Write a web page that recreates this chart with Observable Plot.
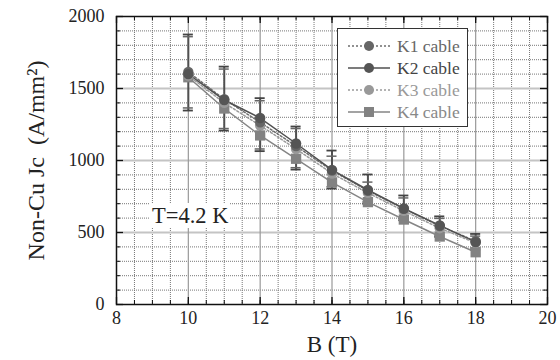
<!DOCTYPE html>
<html><head><meta charset="utf-8">
<script src="https://cdn.jsdelivr.net/npm/d3@7"></script>
<script src="https://cdn.jsdelivr.net/npm/@observablehq/plot@0.6"></script>
<style>
body{margin:0;background:#fff;}
#wrap{position:relative;width:560px;height:360px;font-family:"Liberation Serif","Times New Roman",Times,"DejaVu Serif",serif;}
#wrap svg text{font-family:"Liberation Serif","Times New Roman",Times,"DejaVu Serif",serif;}
#legend{position:absolute;left:337px;top:28px;width:131px;height:99px;border:1.5px solid #333;background:#fff;box-sizing:border-box;}
#note{position:absolute;left:150px;top:203px;background:#fff;font-size:22.5px;line-height:25px;padding:0 2px;color:#222;}
</style></head>
<body><div id="wrap"></div>
<script>
// data
const B = [10, 11, 12, 13, 14, 15, 16, 17, 18];
const K1 = [1615, 1425, 1265, 1100, 930, 790, 665, 545, 440];
const K2 = [1600, 1420, 1295, 1118, 935, 795, 667, 549, 433];
const K3 = [1590, 1400, 1243, 1080, 910, 775, 650, 530, 428];
const K4 = [1578, 1361, 1174, 1012, 848, 711, 590, 472, 363];
const errHi1 = [1875, 1652, 1433, 1236, 1069, 903, 757, 612, 490];
const errLo1 = [1347, 1208, 1065, 937, 805, 700, 585, 470, 380];
const errHi2 = [1860, 1635, 1415, 1222, 1030, 850, 740, 598, 475];
const errLo2 = [1365, 1222, 1080, 950, 818, 712, 598, 482, 392];
const xTicks = [8, 10, 12, 14, 16, 18, 20];
const yTicks = [0, 500, 1000, 1500, 2000];
const names = ["K1 cable", "K2 cable", "K3 cable", "K4 cable"];
const values = [K1, K2, K3, K4];
const strokes = ["#6e6e6e", "#505050", "#9a9a9a", "#858585"];
const fills = ["#666666", "#555555", "#999999", "#828282"];
const textColors = ["#666", "#444", "#999", "#888"];
const dashes = ["2,2", null, "2,2", null];
const symbols = ["circle", "circle", "circle", "square"];

const rows = [];
names.forEach((n, i) => B.forEach((b, j) => rows.push({series: n, i, B: b, v: values[i][j]})));
const errs = B.map((b, j) => ({B: b, hi1: errHi1[j], lo1: errLo1[j], hi2: errHi2[j], lo2: errLo2[j]}));

const W = 560, H = 360, mL = 116, mR = 13, mT = 16, mB = 56;
const pw = W - mL - mR, ph = H - mT - mB;
const xMinor = d3.range(8, 20.001, 0.5);
const yMinor = d3.range(0, 2000.001, 100);
const xMajorInner = xTicks.slice(1, -1);
const yMajorInner = yTicks.slice(1, -1);
const font = "Liberation Serif, Times New Roman, Times, DejaVu Serif, serif";
const capW = 0.14;

const marks = [
  Plot.ruleX(xMinor.filter(d => !xTicks.includes(d)), {stroke: "#777", strokeDasharray: "1,1", strokeWidth: 1}),
  Plot.ruleY(yMinor.filter(d => !yTicks.includes(d)), {stroke: "#777", strokeDasharray: "1,1", strokeWidth: 1}),
  Plot.ruleY(yMajorInner, {stroke: "#c4c4c4", strokeWidth: 2}),
  Plot.ruleX(xMajorInner, {stroke: "#999", strokeWidth: 1.2}),
  // inward ticks
  Plot.tickX(xMinor, {x: d => d, insetTop: ph - 4, stroke: "#111"}),
  Plot.tickX(xTicks, {x: d => d, insetTop: ph - 7, stroke: "#111", strokeWidth: 1.3}),
  Plot.tickX(xMinor, {x: d => d, insetBottom: ph - 4, stroke: "#111"}),
  Plot.tickX(xTicks, {x: d => d, insetBottom: ph - 7, stroke: "#111", strokeWidth: 1.3}),
  Plot.tickY(yMinor, {y: d => d, insetRight: pw - 4, stroke: "#111"}),
  Plot.tickY(yTicks, {y: d => d, insetRight: pw - 7, stroke: "#111", strokeWidth: 1.3}),
  Plot.tickY(yMinor, {y: d => d, insetLeft: pw - 4, stroke: "#111"}),
  Plot.tickY(yTicks, {y: d => d, insetLeft: pw - 7, stroke: "#111", strokeWidth: 1.3}),
  // error bars
  Plot.ruleX(errs, {x: "B", y1: "lo1", y2: "hi1", stroke: "#505050", strokeWidth: 2}),
  Plot.ruleY(errs, {y: "hi1", x1: d => d.B - capW, x2: d => d.B + capW, stroke: "#444", strokeWidth: 1.8}),
  Plot.ruleY(errs, {y: "lo1", x1: d => d.B - capW, x2: d => d.B + capW, stroke: "#444", strokeWidth: 1.8}),
  Plot.ruleY(errs, {y: "hi2", x1: d => d.B - capW, x2: d => d.B + capW, stroke: "#666", strokeWidth: 1.5}),
  Plot.ruleY(errs, {y: "lo2", x1: d => d.B - capW, x2: d => d.B + capW, stroke: "#666", strokeWidth: 1.5}),
];
names.forEach((n, i) => {
  const d = rows.filter(r => r.i === i);
  marks.push(Plot.line(d, {x: "B", y: "v", stroke: strokes[i], strokeWidth: 1.5, strokeDasharray: dashes[i]}));
});
[3, 2, 0, 1].forEach(i => {
  const d = rows.filter(r => r.i === i);
  marks.push(Plot.dot(d, {x: "B", y: "v", symbol: symbols[i], r: symbols[i] === "square" ? 5.8 : 5.2, fill: fills[i], stroke: "none"}));
});
marks.push(
  Plot.frame({stroke: "#111", strokeWidth: 1.5}),
  Plot.axisX(xTicks, {tickSize: 0, tickPadding: 7, fontSize: 18, tickFormat: d => String(d), label: "B (T)", labelAnchor: "center", labelArrow: "none", labelOffset: 47}),
  Plot.axisY(yTicks, {tickSize: 0, tickPadding: 12, fontSize: 18, tickFormat: d => String(d), label: "Non-Cu Jc  (A/mm²)", labelAnchor: "center", labelArrow: "none", labelOffset: 90})
);

const chart = Plot.plot({
  width: W, height: H,
  marginLeft: mL, marginRight: mR, marginTop: mT, marginBottom: mB,
  x: {domain: [8, 20]},
  y: {domain: [0, 2000]},
  style: {fontFamily: font, color: "#222", background: "#fff"},
  marks
});
chart.querySelectorAll("[aria-label='x-axis label'] text").forEach(t => t.setAttribute("font-size", 23));
chart.querySelectorAll("[aria-label='y-axis label'] text").forEach(t => { t.setAttribute("font-size", 24); t.setAttribute("xml:space", "preserve"); t.style.whiteSpace = "pre"; });
const wrap = document.getElementById("wrap");
wrap.appendChild(chart);

// legend
const leg = document.createElement("div");
leg.id = "legend";
const ls = d3.select(leg).append("svg").attr("width", 129).attr("height", 96);
names.forEach((n, i) => {
  const g = ls.append("g").attr("transform", `translate(0,${17 + i * 22})`);
  g.append("line").attr("x1", 10).attr("x2", 52).attr("y1", 0).attr("y2", 0)
    .attr("stroke", strokes[i]).attr("stroke-width", 1.5).attr("stroke-dasharray", dashes[i]);
  if (symbols[i] === "square") g.append("rect").attr("x", 26).attr("y", -5).attr("width", 10).attr("height", 10).attr("fill", fills[i]);
  else g.append("circle").attr("cx", 31).attr("cy", 0).attr("r", 5).attr("fill", fills[i]);
  g.append("text").attr("x", 59).attr("y", 6).attr("font-size", 17.5).attr("fill", textColors[i]).text(n);
});
wrap.appendChild(leg);

const note = document.createElement("div");
note.id = "note";
note.textContent = "T=4.2 K";
wrap.appendChild(note);
</script></body></html>
